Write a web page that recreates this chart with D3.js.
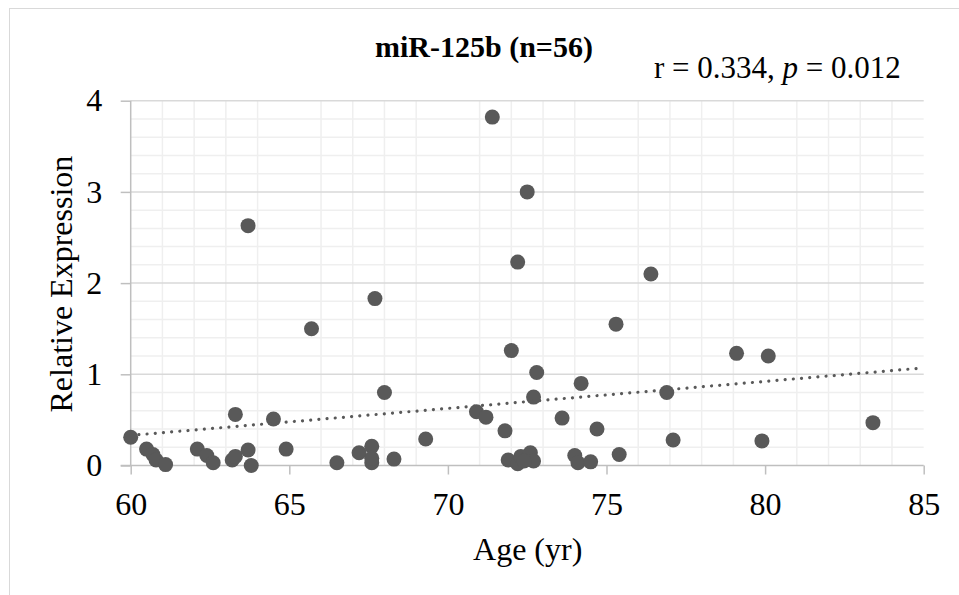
<!DOCTYPE html>
<html>
<head>
<meta charset="utf-8">
<script src="https://cdn.jsdelivr.net/npm/d3@7"></script>
<style>
	html, body { margin: 0; padding: 0; background: #fff; }
	svg { display: block; font-family: "Liberation Serif", "Times New Roman", serif; }
	.domain { stroke: #bfbfbf; stroke-width: 1.5px; }
	.tick line { stroke: #bfbfbf; stroke-width: 1.5px; }
	.tick text { fill: #000; font-size: 32px; }
</style>
</head>
<body>
<svg id="chart" width="959" height="595"></svg>
<script>
// Values
const ages = [
	60.0, 60.5, 60.7, 60.8, 61.1, 62.1, 62.4, 62.6, 63.2, 63.3,
	63.3, 63.7, 63.7, 63.8, 64.5, 64.9, 65.7, 66.5, 67.2, 67.6,
	67.6, 67.6, 67.7, 68.0, 68.3, 69.3, 70.9, 71.2, 71.4, 71.8,
	71.9, 72.0, 72.2, 72.2, 72.3, 72.5, 72.6, 72.7, 72.7, 72.8,
	73.6, 74.0, 74.1, 74.2, 74.5, 74.7, 75.3, 75.4, 76.4, 76.9,
	77.1, 79.1, 79.9, 80.1, 83.4, 72.4,
];
const expression = [
	0.31, 0.18, 0.12, 0.06, 0.01, 0.18, 0.11, 0.03, 0.06, 0.10,
	0.56, 2.63, 0.17, 0.00, 0.51, 0.18, 1.50, 0.03, 0.14, 0.21,
	0.03, 0.08, 1.83, 0.80, 0.07, 0.29, 0.59, 0.53, 3.82, 0.38,
	0.06, 1.26, 2.23, 0.02, 0.10, 3.00, 0.14, 0.75, 0.05, 1.02,
	0.52, 0.11, 0.03, 0.90, 0.04, 0.40, 1.55, 0.12, 2.10, 0.80,
	0.28, 1.23, 0.27, 1.20, 0.47, 0.05,
];
// Dotted linear trend line, end values
const trendAges = [60, 85];
const trendValues = [0.33, 1.07];

const xTicks = [60, 65, 70, 75, 80, 85];
const yTicks = [0, 1, 2, 3, 4];
const title = 'miR-125b (n=56)';
const xTitle = 'Age (yr)';
const yTitle = 'Relative Expression';

const svg = d3.select('#chart');

// Chart area border
svg.append('rect')
	.attr('x', 9.5).attr('y', 8.5)
	.attr('width', 980).attr('height', 620)
	.attr('fill', '#fff').attr('stroke', '#d9d9d9').attr('stroke-width', 1);

const x = d3.scaleLinear().domain([60, 85]).range([130.7, 923.7]);
const y = d3.scaleLinear().domain([0, 4]).range([465.5, 100.7]);

const gGrid = svg.append('g');

// Vertical minor gridlines (every year, skipping the 5-year marks)
const vMinor = d3.range(61, 85).filter(v => v % 5 !== 0);
gGrid.selectAll('line.vminor').data(vMinor).enter().append('line')
	.attr('x1', d => x(d)).attr('x2', d => x(d))
	.attr('y1', y(4)).attr('y2', y(0))
	.attr('stroke', '#efefef').attr('stroke-width', 1.5);

// Horizontal minor gridlines every 0.2
const hMinor = d3.range(1, 20).map(i => i / 5).filter(v => Math.abs(v - Math.round(v)) > 1e-6);
gGrid.selectAll('line.hminor').data(hMinor).enter().append('line')
	.attr('x1', x(60)).attr('x2', x(85))
	.attr('y1', d => y(d)).attr('y2', d => y(d))
	.attr('stroke', '#efefef').attr('stroke-width', 1.5);

// Horizontal major gridlines
gGrid.selectAll('line.hmajor').data(yTicks.filter(v => v > 0)).enter().append('line')
	.attr('x1', x(60)).attr('x2', x(85))
	.attr('y1', d => y(d)).attr('y2', d => y(d))
	.attr('stroke', '#d9d9d9').attr('stroke-width', 1.5);

// Axes
svg.append('g')
	.attr('transform', `translate(0,${y(0)})`)
	.call(d3.axisBottom(x).tickValues(xTicks).tickFormat(d3.format('d'))
		.tickSize(9).tickPadding(18).tickSizeOuter(0))
	.attr('font-family', null).attr('font-size', null)
	.call(g => g.select('.domain').attr('d', `M${x(60) - 10},0H${x(85)}`));

svg.append('g')
	.attr('transform', `translate(${x(60)},0)`)
	.call(d3.axisLeft(y).tickValues(yTicks).tickFormat(d3.format('d'))
		.tickSize(10).tickPadding(18.5).tickSizeOuter(0))
	.attr('font-family', null).attr('font-size', null)
	.call(g => g.select('.domain').attr('d', `M0,${y(4)}V${y(0)}`));

// Points
svg.append('g').selectAll('circle')
	.data(ages.map((a, i) => [a, expression[i]]))
	.enter().append('circle')
	.attr('cx', d => x(d[0])).attr('cy', d => y(d[1]))
	.attr('r', 7.5).attr('fill', '#595959');

// Trend line
svg.append('path')
	.datum(trendAges.map((a, i) => [a, trendValues[i]]))
	.attr('d', d3.line().x(d => x(d[0])).y(d => y(d[1])))
	.attr('fill', 'none').attr('stroke', '#595959')
	.attr('stroke-width', 3.2).attr('stroke-linecap', 'round')
	.attr('stroke-dasharray', '0.01 8.2');

// Texts
svg.append('text')
	.attr('x', 484).attr('y', 57)
	.attr('text-anchor', 'middle')
	.attr('font-size', 30).attr('font-weight', 'bold')
	.text(title);

const stat = svg.append('text')
	.attr('x', 654).attr('y', 78)
	.attr('font-size', 31);
stat.append('tspan').text('r = 0.334, ');
stat.append('tspan').attr('font-style', 'italic').text('p');
stat.append('tspan').text(' = 0.012');

svg.append('text')
	.attr('x', x(72.5) + 0.5).attr('y', 560)
	.attr('text-anchor', 'middle')
	.attr('font-size', 32)
	.text(xTitle);

svg.append('text')
	.attr('transform', `translate(72,${(y(0) + y(4)) / 2 + 1}) rotate(-90)`)
	.attr('text-anchor', 'middle')
	.attr('font-size', 32)
	.text(yTitle);
</script>
</body>
</html>
